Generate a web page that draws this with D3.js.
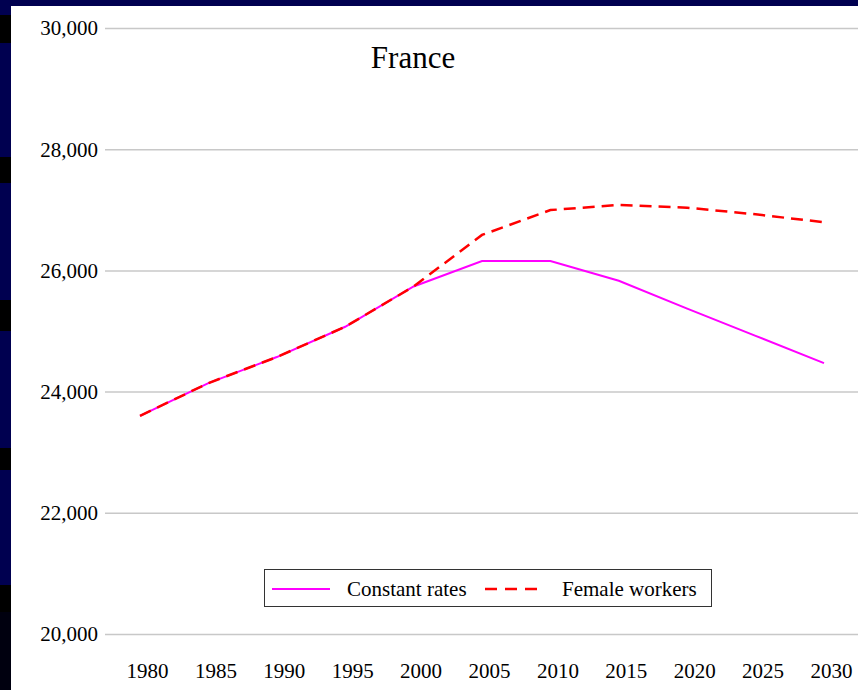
<!DOCTYPE html>
<html>
<head>
<meta charset="utf-8">
<script src="https://cdn.jsdelivr.net/npm/d3@7"></script>
<style>
  html, body { margin: 0; padding: 0; background: #000050; }
  svg { display: block; }
  text { font-family: "Liberation Serif", "Times New Roman", serif; fill: #000; }
</style>
</head>
<body>
<svg id="chart" width="858" height="690"></svg>
<script>
// ---- Data ----
const years = [1980, 1985, 1990, 1995, 2000, 2005, 2010, 2015, 2020, 2025, 2030];
const constantRates = [23600, 24140, 24570, 25070, 25735, 26155, 26155, 25830, 25370, 24920, 24470];
const femaleWorkers = [23600, 24140, 24570, 25070, 25735, 26585, 26995, 27080, 27035, 26925, 26795];
const yTicks = [20000, 22000, 24000, 26000, 28000, 30000];
const seriesNames = ["Constant rates", "Female workers"];
const title = "France";

// ---- Layout ----
const W = 858, H = 690;
const svg = d3.select("#chart");

// background frame (navy with darker blocks on the left strip)
svg.append("rect").attr("x", 0).attr("y", 0).attr("width", W).attr("height", H).attr("fill", "#000050");
const stripBlocks = [[15, 43, "#000000"], [157, 183, "#000000"], [300, 331, "#000000"],
                     [448, 470, "#000000"], [585, 612, "#000000"], [612, 690, "#00000f"]];
svg.selectAll("rect.strip").data(stripBlocks).join("rect")
  .attr("class", "strip")
  .attr("x", 0).attr("width", 11)
  .attr("y", d => d[0]).attr("height", d => d[1] - d[0])
  .attr("fill", d => d[2]);
svg.append("rect").attr("x", 11).attr("y", 6).attr("width", W - 11).attr("height", H - 6).attr("fill", "#ffffff");

const x = d3.scaleLinear().domain([1980, 2030]).range([140, 824]);
const y = d3.scaleLinear().domain([20000, 30000]).range([634, 28]);
const gridLeft = 105, gridRight = 858;

// y axis with gridlines
const yAxis = svg.append("g")
  .attr("transform", `translate(${gridLeft},0)`)
  .call(d3.axisLeft(y).tickValues(yTicks).tickFormat(d3.format(",")).tickSize(-(gridRight - gridLeft)).tickPadding(7));
yAxis.select(".domain").remove();
yAxis.selectAll(".tick line").attr("stroke", "#c8c8c8").attr("stroke-width", 1.5);
yAxis.selectAll(".tick text")
  .attr("font-size", 21).attr("fill", "#000")
  .attr("font-family", '"Liberation Serif", "Times New Roman", serif')
  .attr("dy", "0.33em");

// x axis labels
const xAxis = svg.append("g")
  .attr("transform", `translate(0,${y(20000)})`)
  .call(d3.axisBottom(x).tickValues(years).tickFormat(d3.format("d")).tickSize(0));
xAxis.select(".domain").remove();
xAxis.selectAll(".tick text")
  .attr("font-size", 21).attr("fill", "#000")
  .attr("font-family", '"Liberation Serif", "Times New Roman", serif')
  .attr("y", 44).attr("dy", 0).attr("dx", 7);

// title
svg.append("text")
  .attr("x", 413).attr("y", 68)
  .attr("text-anchor", "middle")
  .attr("font-size", 31)
  .text(title);

// lines
const line = d3.line().x((d, i) => x(years[i])).y(d => y(d));
svg.append("path")
  .attr("d", line(constantRates))
  .attr("fill", "none").attr("stroke", "#ff00ff").attr("stroke-width", 2);
svg.append("path")
  .attr("d", line(femaleWorkers))
  .attr("fill", "none").attr("stroke", "#ff0000").attr("stroke-width", 2.5)
  .attr("stroke-dasharray", "12,7");

// legend
const lg = svg.append("g");
lg.append("rect")
  .attr("x", 264.5).attr("y", 569.5).attr("width", 447).attr("height", 37)
  .attr("fill", "#fff").attr("stroke", "#333").attr("stroke-width", 1);
const legendItems = [
  { name: seriesNames[0], color: "#ff00ff", dash: null, x0: 272, x1: 330, tx: 347 },
  { name: seriesNames[1], color: "#ff0000", dash: "12,8", x0: 485, x1: 540, tx: 562 }
];
legendItems.forEach(it => {
  lg.append("line")
    .attr("x1", it.x0).attr("x2", it.x1).attr("y1", 589).attr("y2", 589)
    .attr("stroke", it.color).attr("stroke-width", it.dash ? 2.5 : 2)
    .attr("stroke-dasharray", it.dash);
  lg.append("text")
    .attr("x", it.tx).attr("y", 596)
    .attr("font-size", 21)
    .text(it.name);
});
</script>
</body>
</html>
